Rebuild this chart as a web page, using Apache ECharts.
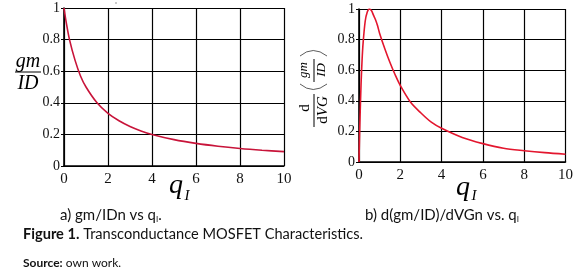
<!DOCTYPE html>
<html><head><meta charset="utf-8">
<script src="https://cdn.jsdelivr.net/npm/echarts@6/dist/echarts.min.js"></script>
<style>html,body{margin:0;padding:0;background:#fff}#c{width:576px;height:280px}</style>
</head><body><div id="c"></div>
<script>
// Panel a) gm/IDn vs qI
const qA = [0, 0.1, 0.25, 0.5, 0.75, 1, 1.5, 2, 2.5, 3, 3.5, 4, 5, 6, 7, 8, 9, 10];
const gmIdA = [1, 0.91, 0.8, 0.67, 0.57, 0.5, 0.4, 0.333, 0.286, 0.25, 0.222, 0.2, 0.167, 0.143, 0.125, 0.111, 0.1, 0.091];
// Panel b) d(gm/ID)/dVGn vs qI
const qB = [0, 0.02, 0.05, 0.1, 0.15, 0.2, 0.3, 0.4, 0.5, 0.6, 0.7, 0.8, 0.9, 1, 1.25, 1.5, 1.75, 2, 2.5, 3, 3.5, 4, 5, 6, 7, 8, 9, 10];
const dGmB = [0, 0.13, 0.29, 0.51, 0.67, 0.78, 0.92, 0.98, 1, 0.99, 0.96, 0.93, 0.89, 0.84, 0.74, 0.65, 0.57, 0.5, 0.39, 0.32, 0.26, 0.22, 0.16, 0.12, 0.09, 0.074, 0.061, 0.051];
const xTicks = [0, 2, 4, 6, 8, 10];
const yTicks = ['0', '0.2', '0.4', '0.6', '0.8', '1'];

const serif = 'Liberation Serif';
function xAx(i){return {gridIndex:i,type:'value',min:0,max:10,interval:2,
  axisLine:{lineStyle:{color:'#000',width:1.6}},axisTick:{show:false},
  axisLabel:{color:'#111',fontFamily:serif,fontSize:15,margin:6},
  splitLine:{show:true,lineStyle:{color:'#000',width:1.2}}};}
function yAx(i){return {gridIndex:i,type:'value',min:0,max:1,interval:0.2,
  axisLine:{show:true,lineStyle:{color:'#000',width:1.6}},axisTick:{show:true,length:3,lineStyle:{color:'#000'}},
  axisLabel:{color:'#111',fontFamily:serif,fontSize:14,margin:4,formatter:v=>yTicks[Math.round(v/0.2)]},
  splitLine:{show:true,lineStyle:{color:'#000',width:1.2}}};}

const chart = echarts.init(document.getElementById('c'));
function txt(x,y,text,opt){return {type:'text',x:x,y:y,style:Object.assign({text:text,fill:'#000',textAlign:'center',textVerticalAlign:'middle'},opt||{})};}
function rot(o){o.rotation=Math.PI/2;return o;}
const thin={stroke:'#333',lineWidth:0.8,fill:null};
const g = [
  txt(28,62,'gm',{font:'italic 20px "Liberation Serif"'}),
  {type:'line',shape:{x1:15,y1:72,x2:41,y2:72},style:{stroke:'#000',lineWidth:1}},
  txt(28,84,'ID',{font:'italic 20px "Liberation Serif"'}),
  // qI labels
  txt(176,186,'q',{font:'italic 28px "Liberation Serif"'}),
  txt(187,196,'I',{font:'italic 15px "Liberation Serif"'}),
  txt(463,188,'q',{font:'italic 28px "Liberation Serif"'}),
  txt(474,196,'I',{font:'italic 15px "Liberation Serif"'}),
  // rotated label right
  rot(txt(305,108,'d',{font:'15px "Liberation Serif"'})),
  {type:'line',shape:{x1:314,y1:94,x2:314,y2:127},style:{stroke:'#000',lineWidth:1}},
  rot(txt(323,110,'{r|d}{i|VG}',{rich:{r:{font:'15px "Liberation Serif"'},i:{font:'italic 15px "Liberation Serif"'}}})),
  {type:'bezierCurve',shape:{x1:300,y1:84,x2:327,y2:84,cpx1:313,cpy1:95},style:thin},
  {type:'bezierCurve',shape:{x1:300,y1:56,x2:327,y2:56,cpx1:313,cpy1:45},style:thin},
  rot(txt(304,70,'gm',{font:'italic 13px "Liberation Serif"'})),
  {type:'line',shape:{x1:314,y1:59,x2:314,y2:82},style:{stroke:'#000',lineWidth:1}},
  rot(txt(322,70,'ID',{font:'italic 13px "Liberation Serif"'})),
  // captions
  {type:'text',x:60,y:215,style:{text:'a) gm/IDn vs q{s|I}.',font:'15px Lato',fill:'#111',textVerticalAlign:'middle',rich:{s:{font:'8px Lato',padding:[9,0,0,0]}}}},
  {type:'text',x:365,y:215,style:{text:'b) d(gm/ID)/dVGn vs. q{s|I}',font:'15px Lato',fill:'#111',textVerticalAlign:'middle',rich:{s:{font:'8px Lato',padding:[9,0,0,0]}}}},
  {type:'text',x:23,y:234,style:{text:'{b|Figure 1.} Transconductance MOSFET Characteristics.',font:'14.6px Lato',fill:'#111',textVerticalAlign:'middle',rich:{b:{font:'bold 14.6px Lato'}}}},
  {type:'text',x:23,y:263,style:{text:'{b|Source:} own work.',font:'12px Lato',fill:'#111',textVerticalAlign:'middle',rich:{b:{font:'bold 12px Lato'}}}},
  {type:'circle',shape:{cx:116,cy:3,r:0.8},style:{fill:'#888'}}
];
chart.setOption({
  animation:false,
  grid:[{left:64,top:8,width:220,height:158},{left:359,top:9,width:210,height:153}],
  xAxis:[xAx(0),xAx(1)],
  yAxis:[yAx(0),yAx(1)],
  series:[
    {type:'line',xAxisIndex:0,yAxisIndex:0,showSymbol:false,smooth:0.3,lineStyle:{color:'#c8143a',width:1.6},data:qA.map((q,i)=>[q,gmIdA[i]])},
    {type:'line',xAxisIndex:1,yAxisIndex:1,showSymbol:false,smooth:0.3,lineStyle:{color:'#e3162e',width:1.6},data:qB.map((q,i)=>[q,dGmB[i]])}
  ],
  graphic:g
});
</script></body></html>
